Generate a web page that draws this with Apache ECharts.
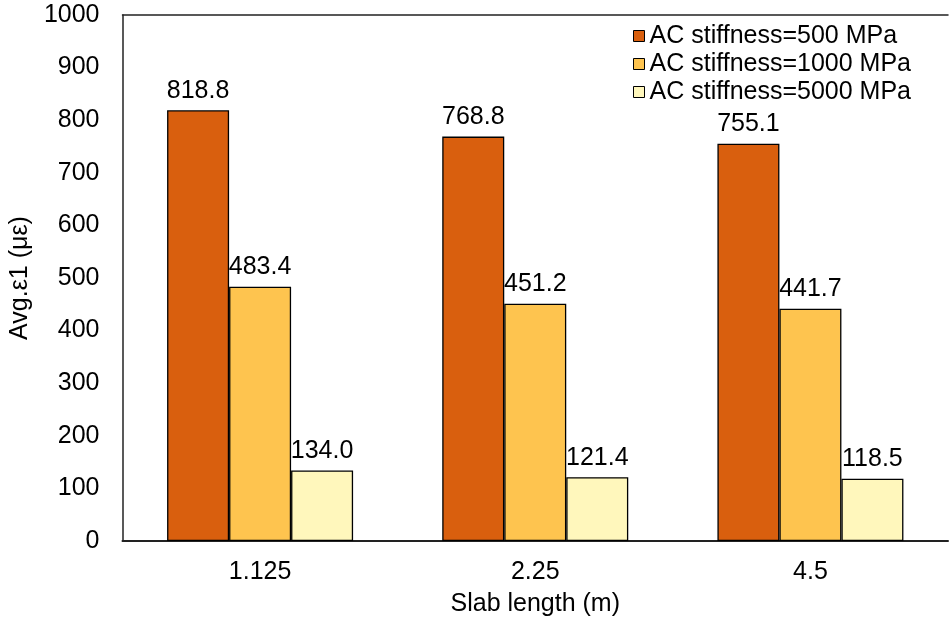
<!DOCTYPE html>
<html><head><meta charset="utf-8">
<script src="https://cdn.jsdelivr.net/npm/echarts@6/dist/echarts.min.js"></script>
<style>html,body{margin:0;padding:0;background:#fff}#c{width:949px;height:623px}</style>
</head><body><div id="c"></div>
<script>
const categories = ['1.125', '2.25', '4.5'];
const seriesNames = ['AC stiffness=500 MPa', 'AC stiffness=1000 MPa', 'AC stiffness=5000 MPa'];
const s500 = [818.8, 768.8, 755.1];
const s1000 = [483.4, 451.2, 441.7];
const s5000 = [134.0, 121.4, 118.5];
const colors = ['#D95F0E', '#FEC44F', '#FFF7BC'];
const font = 'Liberation Sans, Arial, sans-serif';
const FS = 25;
const chart = echarts.init(document.getElementById('c'));
const mk = (name, data, color) => ({
  name, type: 'bar', data, barWidth: 62, barGap: '0%',
  itemStyle: { color, borderColor: '#000', borderWidth: 1.3 },
  label: { show: true, position: 'top', distance: 7, formatter: p => p.value.toFixed(1),
    fontFamily: font, fontSize: FS, color: '#000' }
});
chart.setOption({
  animation: false,
  textStyle: { fontFamily: font },
  grid: { left: 121, top: 15, right: 1, bottom: 82 },
  legend: {
    right: 33, top: 17, orient: 'vertical', itemWidth: 11, itemHeight: 11, itemGap: 0,
    icon: 'rect',
    textStyle: { fontFamily: font, fontSize: FS, color: '#000', padding: [0, 0, 0, 0], lineHeight: 28 },
    itemStyle: { borderColor: '#000', borderWidth: 1 },
    data: seriesNames
  },
  xAxis: [{
    type: 'category', data: categories,
    axisLine: { lineStyle: { color: '#222', width: 2 } },
    axisTick: { show: false },
    axisLabel: { fontFamily: font, fontSize: FS, color: '#000', margin: 19 },
    name: 'Slab length (m)', nameLocation: 'middle', nameGap: 51,
    nameTextStyle: { fontFamily: font, fontSize: FS, color: '#000' }
  }, {
    type: 'category', data: categories, position: 'top',
    axisLine: { lineStyle: { color: '#222', width: 1.5 } },
    axisTick: { show: false }, axisLabel: { show: false }
  }],
  yAxis: {
    type: 'value', min: 0, max: 1000, interval: 100,
    axisLine: { show: true, lineStyle: { color: '#222', width: 1.5 } },
    axisTick: { show: false },
    splitLine: { show: false },
    axisLabel: { fontFamily: font, fontSize: FS, color: '#000', margin: 23, formatter: v => String(v) },
    name: 'Avg.ε1 (με)', nameLocation: 'middle', nameGap: 83,
    nameTextStyle: { fontFamily: font, fontSize: FS, color: '#000' }
  },
  series: [
    mk(seriesNames[0], s500, colors[0]),
    mk(seriesNames[1], s1000, colors[1]),
    mk(seriesNames[2], s5000, colors[2])
  ]
});
</script></body></html>
